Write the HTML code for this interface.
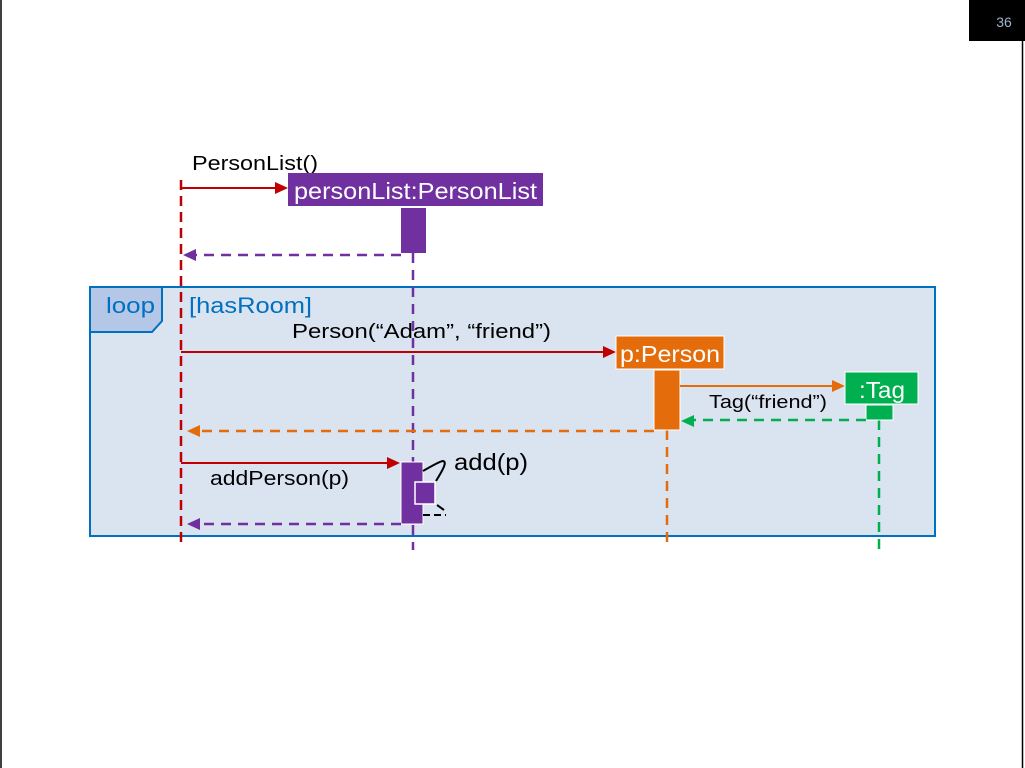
<!DOCTYPE html>
<html><head><meta charset="utf-8"><style>
html,body{margin:0;padding:0;background:#fff;}
svg{display:block;font-family:"Liberation Sans",sans-serif;}
</style></head><body>
<svg width="1025" height="768" viewBox="0 0 1025 768" xmlns="http://www.w3.org/2000/svg">
<rect x="0" y="0" width="1025" height="768" fill="#fff"/>
<line x1="1" y1="0" x2="1" y2="768" stroke="#000" stroke-width="1.5"/>
<line x1="1022.5" y1="40" x2="1022.5" y2="768" stroke="#000" stroke-width="1.5"/>
<rect x="969" y="0" width="56" height="41" fill="#000"/>
<text x="1004" y="27" font-size="14" fill="#9fb4cc" text-anchor="middle">36</text>

<!-- loop frame -->
<rect x="90" y="287" width="845" height="249" fill="#dae3f0" stroke="#0070c0" stroke-width="2"/>
<path d="M90 287 H162 V321 L152 332 H90 Z" fill="#b4c7e7" stroke="#0070c0" stroke-width="2"/>
<text x="106" y="313" font-size="22" fill="#0070c0" textLength="49" lengthAdjust="spacingAndGlyphs">loop</text>
<text x="189" y="313" font-size="22" fill="#0070c0" textLength="123" lengthAdjust="spacingAndGlyphs">[hasRoom]</text>

<!-- lifelines -->
<line x1="181" y1="180" x2="181" y2="548" stroke="#c00000" stroke-width="2.5" stroke-dasharray="10,6"/>
<line x1="413" y1="253" x2="413" y2="550" stroke="#7030a0" stroke-width="2.5" stroke-dasharray="10,7"/>
<line x1="667" y1="430" x2="667" y2="542" stroke="#e46c0a" stroke-width="2.5" stroke-dasharray="10,7"/>
<line x1="879" y1="420" x2="879" y2="550" stroke="#00b050" stroke-width="2.5" stroke-dasharray="10,7"/>

<!-- PersonList -->
<text x="192" y="170" font-size="20" fill="#000" textLength="126" lengthAdjust="spacingAndGlyphs">PersonList()</text>
<line x1="181" y1="188" x2="276" y2="188" stroke="#c00000" stroke-width="2"/>
<polygon points="288,188 275,182 275,194" fill="#c00000"/>
<rect x="288" y="173" width="255" height="33" fill="#7030a0"/>
<text x="294" y="199" font-size="23" fill="#fff" textLength="243" lengthAdjust="spacingAndGlyphs">personList:PersonList</text>
<rect x="401" y="208" width="25" height="45" fill="#7030a0"/>
<line x1="401" y1="255" x2="195" y2="255" stroke="#7030a0" stroke-width="2.5" stroke-dasharray="10,7"/>
<polygon points="183,255 196,249 196,261" fill="#7030a0"/>

<!-- Person -->
<text x="292" y="338" font-size="20" fill="#000" textLength="259" lengthAdjust="spacingAndGlyphs">Person(“Adam”, “friend”)</text>
<line x1="181" y1="352" x2="603" y2="352" stroke="#c00000" stroke-width="2"/>
<polygon points="616,352 603,346 603,358" fill="#c00000"/>
<rect x="616" y="336" width="108" height="33" fill="#e46c0a" stroke="#fff" stroke-width="1"/>
<text x="620" y="362" font-size="23" fill="#fff" textLength="100" lengthAdjust="spacingAndGlyphs">p:Person</text>
<rect x="654" y="370" width="26" height="60" fill="#e46c0a" stroke="#fff" stroke-width="1"/>

<!-- Tag -->
<line x1="680" y1="386" x2="832" y2="386" stroke="#e46c0a" stroke-width="2"/>
<polygon points="845,386 832,380 832,392" fill="#e46c0a"/>
<rect x="845" y="372" width="73" height="32" fill="#00b050" stroke="#fff" stroke-width="1"/>
<text x="859" y="398" font-size="23" fill="#fff" textLength="46" lengthAdjust="spacingAndGlyphs">:Tag</text>
<rect x="866" y="405" width="27" height="15" fill="#00b050" stroke="#fff" stroke-width="1"/>
<text x="709" y="408" font-size="18" fill="#000" textLength="118" lengthAdjust="spacingAndGlyphs">Tag(“friend”)</text>
<line x1="866" y1="420" x2="694" y2="420" stroke="#00b050" stroke-width="2.5" stroke-dasharray="10,7"/>
<polygon points="681,421 694,415 694,427" fill="#00b050"/>

<!-- return orange -->
<line x1="654" y1="431" x2="200" y2="431" stroke="#e46c0a" stroke-width="2.5" stroke-dasharray="10,7"/>
<polygon points="187,431 200,425 200,437" fill="#e46c0a"/>

<!-- addPerson -->
<line x1="181" y1="463" x2="388" y2="463" stroke="#c00000" stroke-width="2"/>
<polygon points="400,463 387,457 387,469" fill="#c00000"/>
<text x="210" y="485" font-size="20" fill="#000" textLength="139" lengthAdjust="spacingAndGlyphs">addPerson(p)</text>
<rect x="401" y="462" width="22" height="62" fill="#7030a0" stroke="#fff" stroke-width="1"/>
<rect x="415" y="482" width="20" height="22" fill="#7030a0" stroke="#fff" stroke-width="1.5"/>
<path d="M423 471 C432 466 440 461 443 461 C447 462 444 468 436 481" fill="none" stroke="#000" stroke-width="2"/>
<path d="M437 505 L444 510" fill="none" stroke="#000" stroke-width="2"/>
<path d="M423 515 H446" fill="none" stroke="#000" stroke-width="2" stroke-dasharray="7,4"/>
<text x="454" y="470" font-size="23" fill="#000" textLength="74" lengthAdjust="spacingAndGlyphs">add(p)</text>
<line x1="401" y1="524" x2="200" y2="524" stroke="#7030a0" stroke-width="2.5" stroke-dasharray="10,7"/>
<polygon points="187,524 200,518 200,530" fill="#7030a0"/>
</svg>
</body></html>
